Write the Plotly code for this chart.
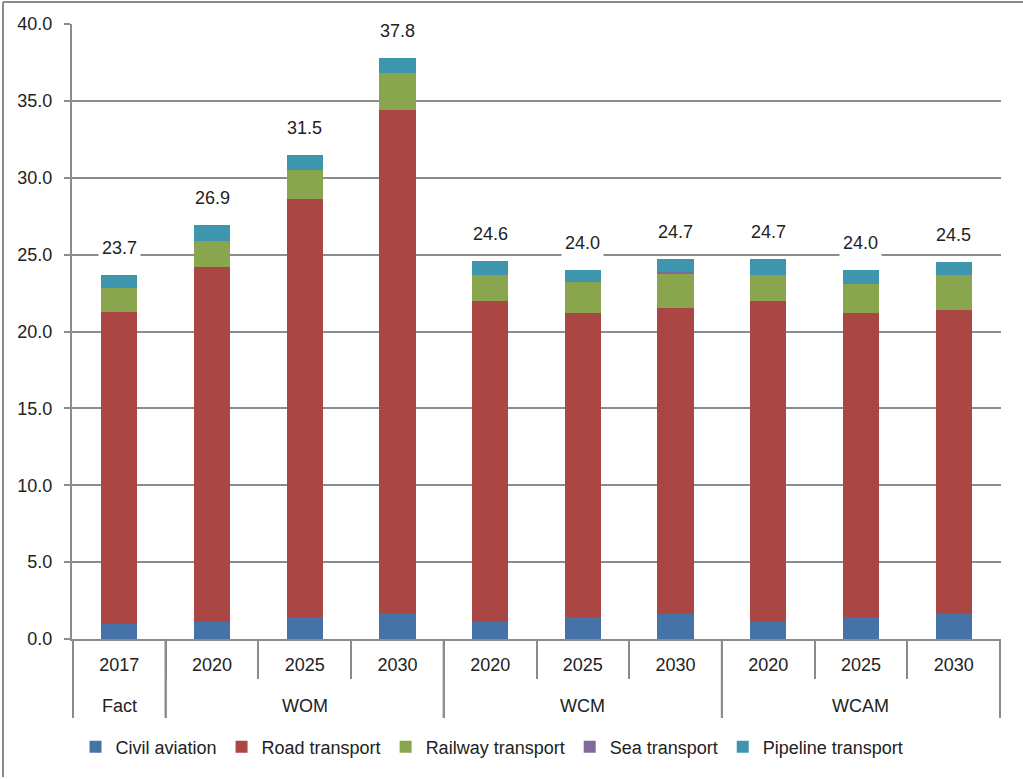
import plotly.graph_objects as go

# -----------------------------
# Data
# -----------------------------

scenarios = ["Fact", "WOM", "WOM", "WOM", "WCM", "WCM", "WCM", "WCAM", "WCAM", "WCAM"]
years = ["2017", "2020", "2025", "2030", "2020", "2025", "2030", "2020", "2025", "2030"]

civil_aviation = [1.0, 1.1, 1.4, 1.6, 1.1, 1.4, 1.6, 1.1, 1.4, 1.6]
road_transport = [20.3, 23.1, 27.2, 32.8, 20.9, 19.8, 19.9, 20.9, 19.8, 19.8]
railway_transport = [1.5, 1.7, 1.9, 2.4, 1.7, 2.0, 2.3, 1.7, 1.9, 2.3]
sea_transport = [0.0, 0.0, 0.0, 0.0, 0.0, 0.0, 0.1, 0.0, 0.0, 0.0]
pipeline_transport = [0.9, 1.0, 1.0, 1.0, 0.9, 0.8, 0.8, 1.0, 0.9, 0.8]

totals = [23.7, 26.9, 31.5, 37.8, 24.6, 24.0, 24.7, 24.7, 24.0, 24.5]

series = [
    ("Civil aviation", civil_aviation, "#4572A7"),
    ("Road transport", road_transport, "#AA4643"),
    ("Railway transport", railway_transport, "#89A54E"),
    ("Sea transport", sea_transport, "#80699B"),
    ("Pipeline transport", pipeline_transport, "#3D96AE"),
]

# -----------------------------
# Figure
# -----------------------------

FONT = "Liberation Sans, Arial, sans-serif"
GRID = "#8c8c8c"
W, H = 1023, 779
L, R, T, B = 72, 22, 24, 140

# unique category keys, shown as years on the axis
cats = [f"{s} {y}" for s, y in zip(scenarios, years)]

fig = go.Figure()

for name, vals, color in series:
    fig.add_trace(go.Bar(
        x=cats,
        y=vals,
        name=name,
        marker=dict(color=color, line=dict(width=0)),
    ))

for i, tot in enumerate(totals):
    fig.add_annotation(
        x=i, y=tot, text=f"{tot:.1f}",
        showarrow=False, yanchor="middle", yshift=27,
        bgcolor="white", borderpad=3,
        font=dict(size=18, color="#222222", family=FONT),
    )

# pixel -> paper helpers
pw, ph = W - L - R, H - T - B
def px_x(v):
    return (v - L) / pw
def px_y(v):
    return (H - B - v) / ph

# scenario groups: dividers + labels under the year row
groups = []
start = 0
for i in range(1, len(scenarios) + 1):
    if i == len(scenarios) or scenarios[i] != scenarios[start]:
        groups.append((scenarios[start], start, i - 1))
        start = i

for name, a, b in groups:
    fig.add_annotation(
        x=(a + b) / 2, xref="x", y=px_y(706), yref="paper",
        text=name, showarrow=False, yanchor="middle",
        font=dict(size=18, color="#222222", family=FONT),
    )
    for edge in (a - 0.5, b + 0.5):
        fig.add_shape(type="line", xref="x", yref="paper",
                      x0=edge, x1=edge, y0=0, y1=px_y(718),
                      line=dict(color=GRID, width=2))

# outer frame (top and left edges visible in the reference)
fig.add_shape(type="line", xref="paper", yref="paper",
              x0=px_x(3), x1=px_x(1030), y0=px_y(2), y1=px_y(2),
              line=dict(color=GRID, width=2))
fig.add_shape(type="line", xref="paper", yref="paper",
              x0=px_x(3), x1=px_x(3), y0=px_y(2), y1=px_y(777),
              line=dict(color=GRID, width=2))

fig.update_layout(
    width=W,
    height=H,
    barmode="stack",
    bargap=0.61,
    plot_bgcolor="white",
    paper_bgcolor="white",
    margin=dict(l=L, r=R, t=T, b=B),
    font=dict(family=FONT, size=18, color="#222222"),
    legend=dict(
        orientation="h",
        x=px_x(492), xanchor="center",
        y=px_y(747), yanchor="middle",
        font=dict(size=18),
        traceorder="normal",
    ),
)

fig.update_yaxes(
    range=[0, 40],
    dtick=5,
    tickformat=".1f",
    showgrid=True,
    gridcolor=GRID,
    gridwidth=2,
    showline=True,
    linecolor=GRID,
    linewidth=2,
    ticks="outside",
    ticklen=6,
    tickcolor=GRID,
    tickwidth=2,
    ticklabelstandoff=8,
    zeroline=False,
)

fig.update_xaxes(
    tickmode="array",
    tickvals=cats,
    ticktext=years,
    showline=True,
    linecolor=GRID,
    linewidth=2,
    ticks="outside",
    tickson="boundaries",
    ticklen=38,
    tickcolor=GRID,
    tickwidth=2,
    ticklabelstandoff=8,
)

fig.write_html(
    "out.html",
    config={"displayModeBar": False},
    post_script="document.body.style.margin='0';",
)
